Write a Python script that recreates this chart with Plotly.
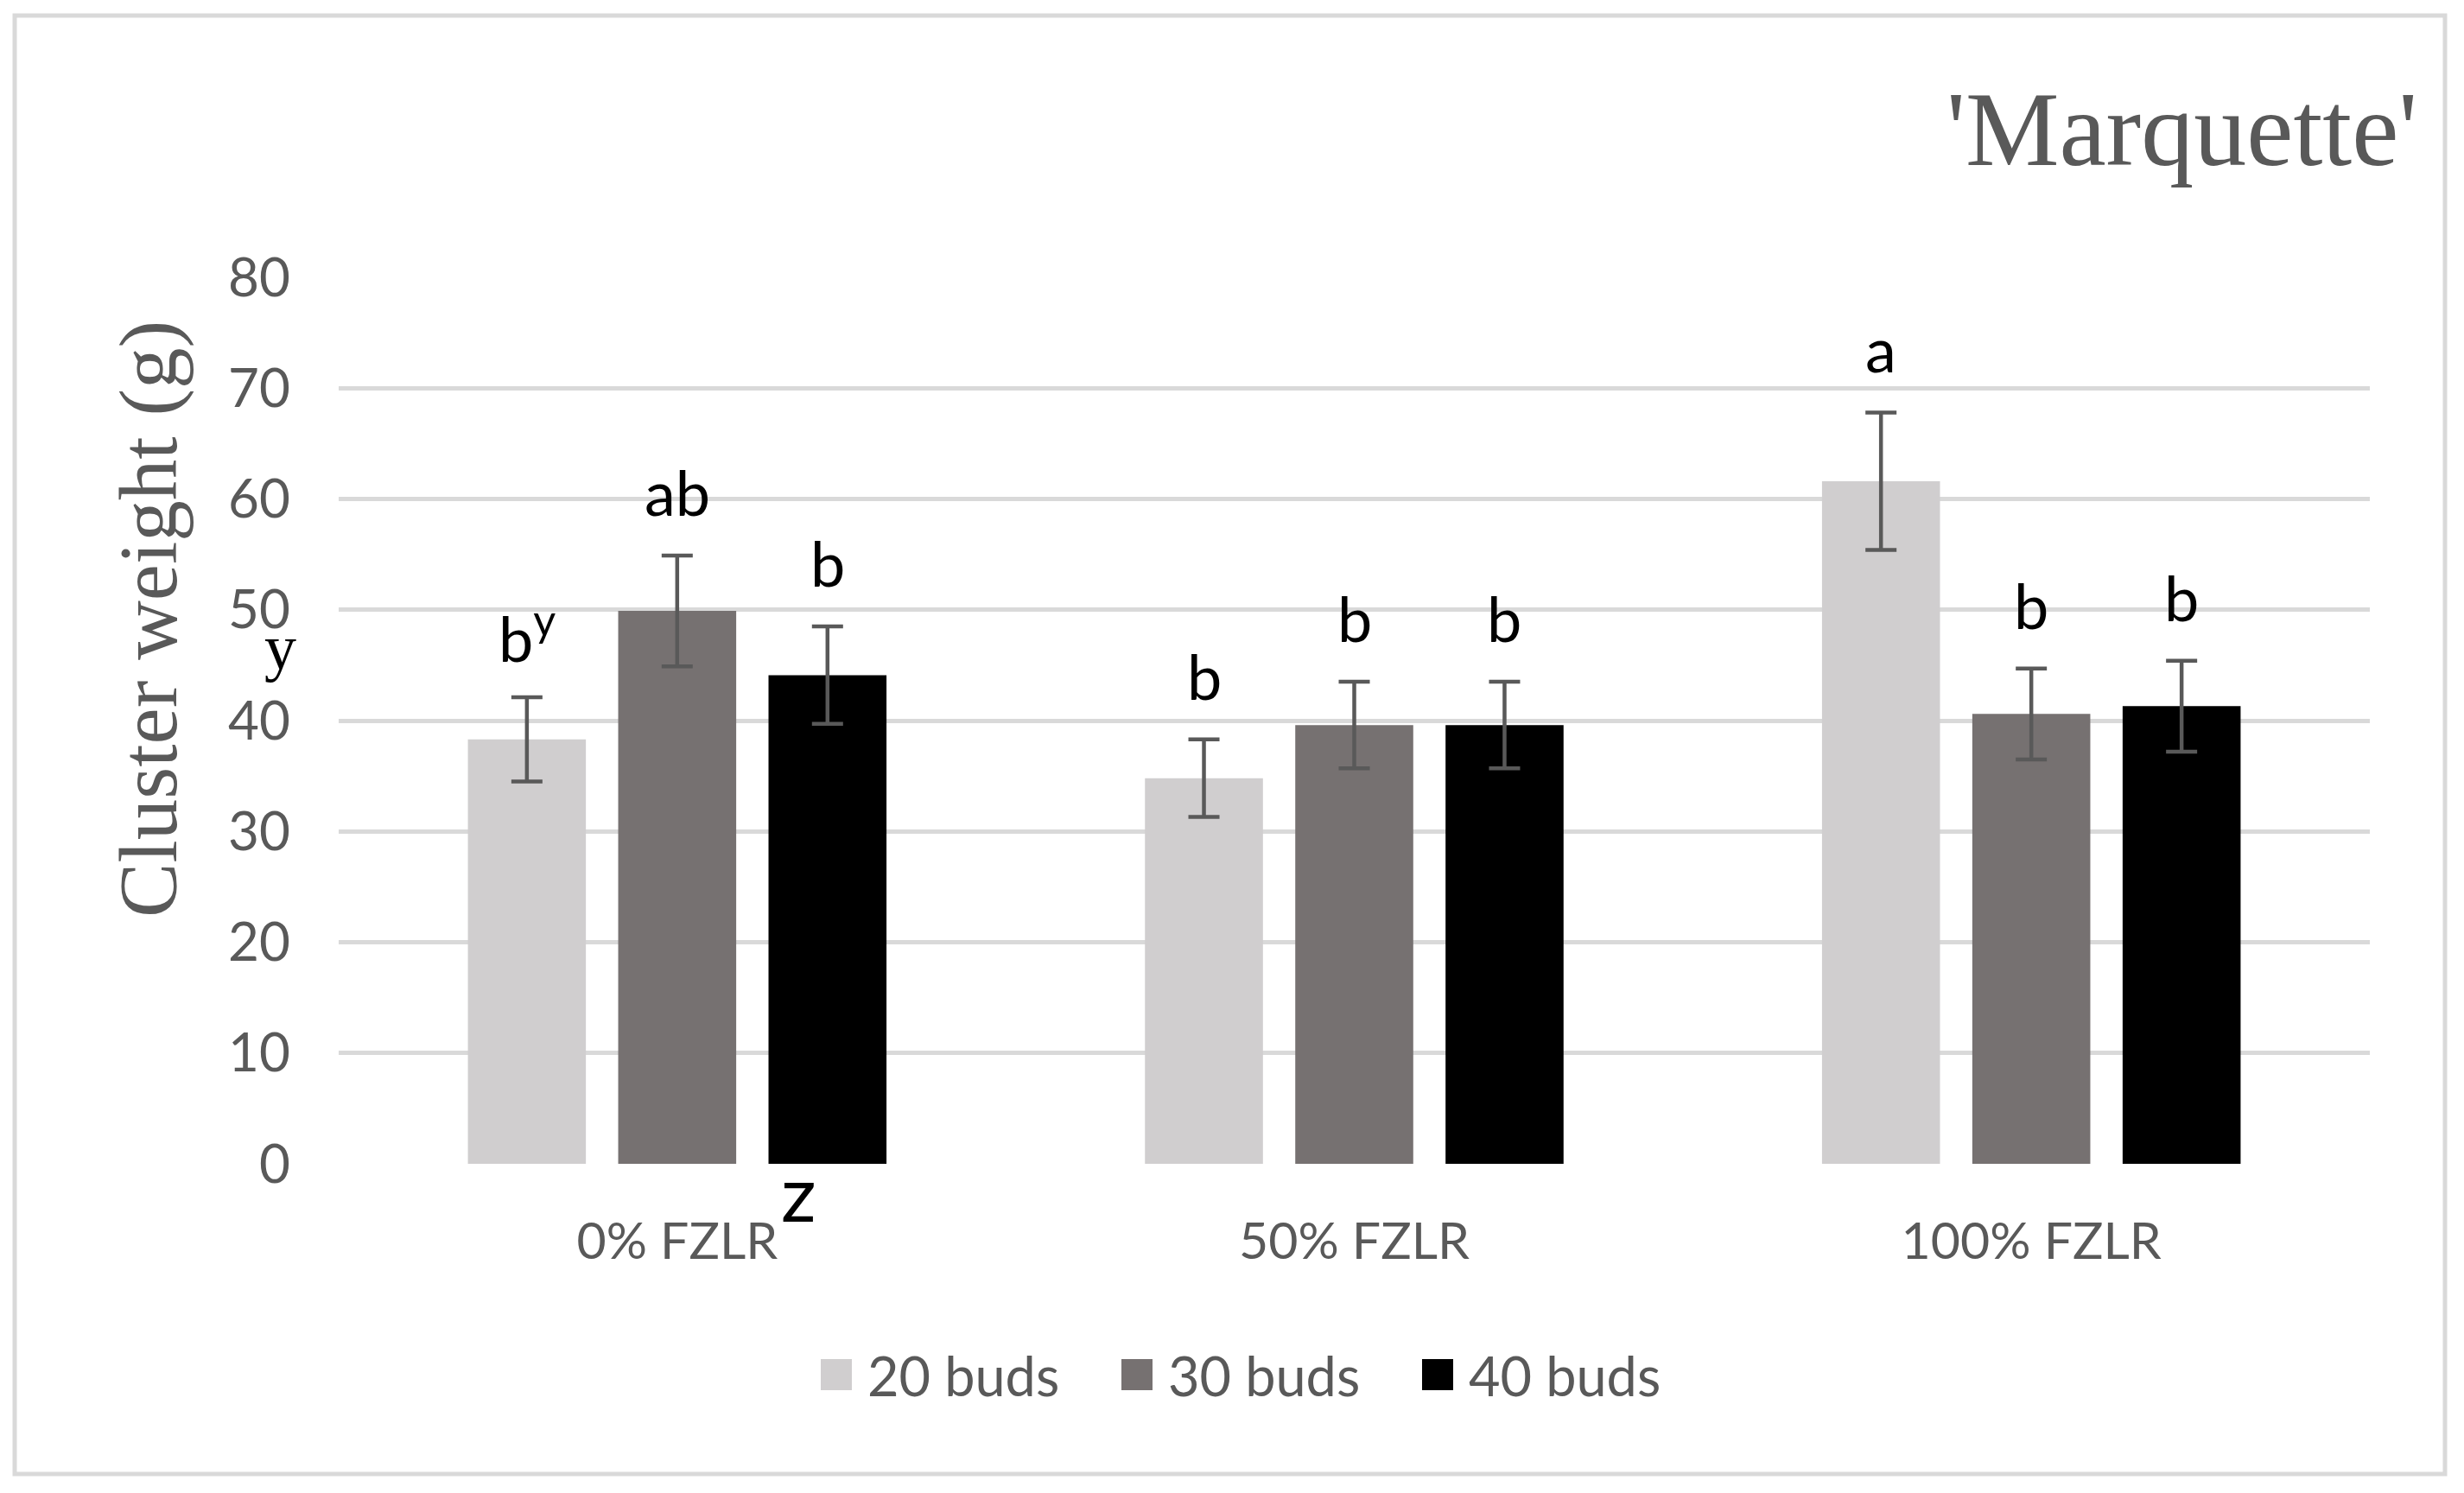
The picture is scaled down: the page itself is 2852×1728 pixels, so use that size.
import plotly.graph_objects as go

# ---------------- data ----------------
categories = ["0% FZLR", "50% FZLR", "100% FZLR"]
series_names = ["20 buds", "30 buds", "40 buds"]
buds20 = [38.3, 34.8, 61.6]
buds30 = [49.9, 39.6, 40.6]
buds40 = [44.1, 39.6, 41.3]
err20 = [3.8, 3.5, 6.2]
err30 = [5.0, 3.9, 4.1]
err40 = [4.4, 3.9, 4.1]
letters20 = ["b<sup>y</sup>", "b", "a"]
letters30 = ["ab", "b", "b"]
letters40 = ["b", "b", "b"]
y_ticks = [0, 10, 20, 30, 40, 50, 60, 70, 80]

# ---------------- style ----------------
colors = ["#d0cecf", "#767171", "#000000"]
W, H = 2852, 1728
L, R, T, B = 392, 109, 321, 381
PW, PH = W - L - R, H - T - B
GRAY = "#595959"
SANS = "Lato"
SERIF = "Liberation Serif"
bargap = 0.334


def px(x):
    return (x - L) / PW


def py(y):
    return (H - B - y) / PH


values = [buds20, buds30, buds40]
errors = [err20, err30, err40]
letters = [letters20, letters30, letters40]

fig = go.Figure()
for name, vals, errs, col in zip(series_names, values, errors, colors):
    fig.add_trace(go.Bar(
        x=categories, y=vals, name=name, marker_color=col,
        marker_line_width=0, showlegend=False,
        error_y=dict(type="data", array=errs, visible=True,
                     color=GRAY, thickness=4.5, width=18),
    ))

annotations = []
slot = (1 - bargap) / 3
for j, (vals, errs, labs) in enumerate(zip(values, errors, letters)):
    off = -(1 - bargap) / 2 + slot * (j + 0.5)
    for i, (v, e, lab) in enumerate(zip(vals, errs, labs)):
        annotations.append(dict(
            x=i + off, y=v + e, xref="x", yref="y", text=lab,
            showarrow=False, yanchor="middle", yshift=74,
            font=dict(family=SANS, size=72, color="#000000"),
        ))

# title
annotations.append(dict(
    x=px(2800), y=py(150), xref="paper", yref="paper", text="'Marquette'",
    xanchor="right", yanchor="middle", showarrow=False,
    font=dict(family=SERIF, size=122, color=GRAY),
))
# y axis title
annotations.append(dict(
    x=px(172), y=py(717), xref="paper", yref="paper", text="Cluster weight (g)",
    textangle=-90, xanchor="center", yanchor="middle", showarrow=False,
    font=dict(family=SERIF, size=95, color=GRAY),
))
# stray marks
annotations.append(dict(
    x=px(324), y=py(749), xref="paper", yref="paper", text="y",
    showarrow=False, xanchor="center", yanchor="middle",
    font=dict(family=SERIF, size=74, color="#000000"),
))
annotations.append(dict(
    x=px(924), y=py(1379), xref="paper", yref="paper", text="z",
    showarrow=False, xanchor="center", yanchor="middle",
    font=dict(family=SANS, size=90, color="#000000"),
))

# custom legend
shapes = []
leg_x0, leg_pitch, leg_y, sq = 950, 348, 1591, 36
for k, (name, col) in enumerate(zip(series_names, colors)):
    x0 = leg_x0 + k * leg_pitch
    shapes.append(dict(type="rect", xref="paper", yref="paper",
                       x0=px(x0), x1=px(x0 + sq), y0=py(leg_y + sq / 2), y1=py(leg_y - sq / 2),
                       fillcolor=col, line_width=0))
    annotations.append(dict(
        x=px(x0 + sq + 16), y=py(leg_y), xref="paper", yref="paper", text=name,
        showarrow=False, xanchor="left", yanchor="middle",
        font=dict(family=SANS, size=63, color=GRAY),
    ))

# outer border
shapes.append(dict(type="rect", xref="paper", yref="paper",
                   x0=px(17), x1=px(2830), y0=py(1706), y1=py(18),
                   line=dict(color="#d9d9d9", width=5), fillcolor="rgba(0,0,0,0)", layer="below"))

fig.update_layout(
    width=W, height=H,
    margin=dict(l=L, r=R, t=T, b=B, autoexpand=False),
    paper_bgcolor="white", plot_bgcolor="white",
    barmode="group", bargap=bargap, bargroupgap=0.215,
    showlegend=False,
    annotations=annotations, shapes=shapes,
    xaxis=dict(showgrid=False, showline=False, zeroline=False, ticks="",
               tickfont=dict(family=SANS, size=59, color=GRAY),
               ticklabelstandoff=50),
    yaxis=dict(range=[0, 80], tickvals=y_ticks, showgrid=True, gridcolor="#d9d9d9",
               gridwidth=5, zeroline=False, showline=False, ticks="",
               tickfont=dict(family=SANS, size=62, color=GRAY),
               ticklabelstandoff=55),
)

fig.write_html("out.html", config={"displayModeBar": False},
               post_script="document.body.style.margin='0';")
